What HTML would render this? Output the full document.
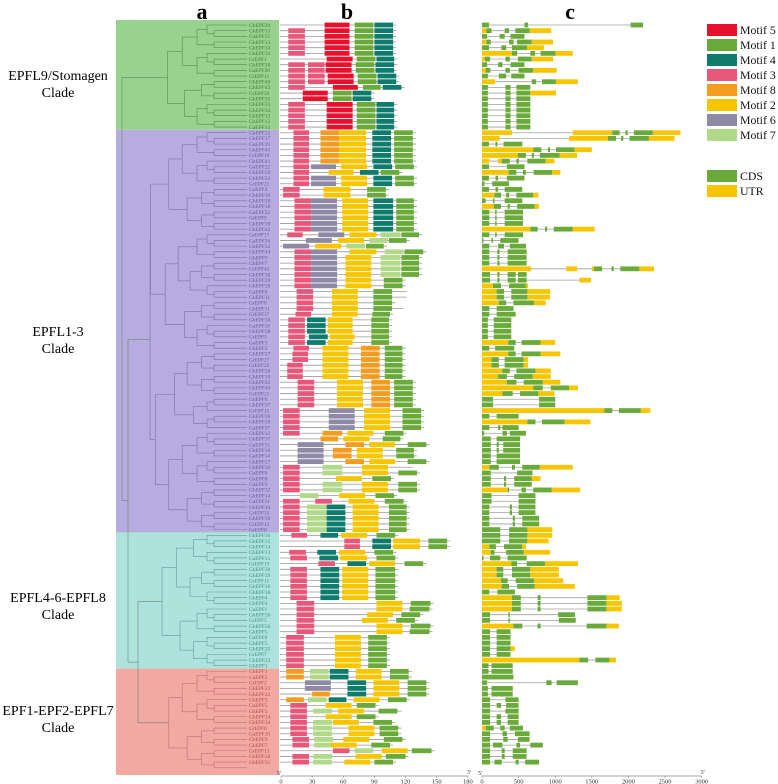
<!DOCTYPE html>
<html><head><meta charset="utf-8">
<style>
html,body{margin:0;padding:0;background:#fff;}
svg{display:block;font-family:"Liberation Serif",serif;}
</style></head>
<body>
<svg id="fig" width="778" height="784" viewBox="0 0 778 784" xmlns="http://www.w3.org/2000/svg">
  <g id="bgs"></g>
  <g id="tree"></g>
  <g id="names"></g>
  <g id="motifs"></g>
  <g id="genes"></g>
  <g id="axes"></g>
  <text x="202" y="19" font-size="22" font-weight="bold" text-anchor="middle">a</text>
  <text x="347" y="19" font-size="22" font-weight="bold" text-anchor="middle">b</text>
  <text x="570" y="19" font-size="22" font-weight="bold" text-anchor="middle">c</text>
  <g font-size="14" text-anchor="middle">
    <text x="58" y="80">EPFL9/Stomagen</text><text x="58" y="97">Clade</text></g>
  <g font-size="14" text-anchor="middle">
    <text x="58" y="336">EPFL1-3</text><text x="58" y="353">Clade</text></g>
  <g font-size="14" text-anchor="middle">
    <text x="58" y="602">EPFL4-6-EPFL8</text><text x="58" y="619">Clade</text></g>
  <g font-size="14" text-anchor="middle">
    <text x="58" y="715">EPF1-EPF2-EPFL7</text><text x="58" y="732">Clade</text></g>
  <g id="legend"></g>
</svg>
<script>
const NS="http://www.w3.org/2000/svg";
// ---- data ----
const cladeNames=["EPFL9/Stomagen","EPFL1-3","EPFL4-6-EPFL8","EPF1-EPF2-EPFL7"];
const cladeStart=[0,19,90,114];
const cladeEnd=[18,89,113,131];
const motifIds=["5","1","4","3","8","2","6","7"];
const motifColors=["#e8112d","#6aaa3a","#0f7b6c","#e8577a","#f39c1f","#f7c600","#8e8aa6","#b2d98a"];
const bTicks=[0,30,60,90,120,150,180];
const cTicks=[0,500,1000,1500,2000,2500,3000];
const rowNames=["GhEPF20","GhEPF13","GaEPF15","GhEPF13","GhEPF34","GhEPF33","GrEPF1","GhEPF18","GaEPF20","GrEPF11","GhEPF40","GhEPF43","GrEPF20","GhEPF35","GhEPF33","GhEPF34","GhEPF12","GhEPF12","GaEPF14",
"GhEPF21","GhEPF17","GaEPF19","GhEPF41","GrEPF10","GhEPF41","GaEPF22","GhEPF29","GhEPF22","GrEPF21","GaEPF4","GhEPF19","GhEPF28","GhEPF18","GaEPF22","GrEPF9","GhEPF39","GhEPF42","GrEPF17","GaEPF24","GhEPF32","GhEPF44","GhEPF9","GhEPF7","GrEPF43","GhEPF30","GhEPF29","GhEPF28","GaEPF8","GhEPF11","GrEPF8","GhEPF11","GrEPF17","GhEPF36","GaEPF18","GhEPF38","GrEPF3","GaEPF3","GhEPF2","GhEPF27","GrEPF27","GrEPF25","GhEPF20","GhEPF19","GhEPF42","GhEPF46","GrEPF21","GhEPF6","GhEPF37","GrEPF15","GhEPF36","GhEPF30","GaEPF37","GhEPF12","GhEPF37","GaEPF15","GhEPF16","GaEPF14","GhEPF27","GhEPF30","GaEPF6","GhEPF8","GaEPF9","GhEPF32","GhEPF14","GaEPF11","GhEPF16","GrEPF31","GhEPF39","GrEPF12","GrEPF8",
"GhEPF36","GhEPF35","GhEPF14","GhEPF13","GaEPF13","GrEPF19","GhEPF38","GhEPF39","GrEPF11","GhEPF16","GhEPF18","GhEPF4","GhEPF4","GaEPF1","GhEPF26","GrEPF5","GhEPF26","GhEPF5","GaEPF6","GhEPF5","GhEPF25","GrEPF7","GhEPF23",
"GhEPF1","GhEPF1","GaEPF2","GrEPF2","GhEPF23","GhEPF22","GhEPF3","GaEPF5","GhEPF3","GhEPF24","GhEPF24","GrEPF6","GaEPF10","GhEPF9","GhEPF7","GrEPF13","GhEPF28","GhEPF31"];
const motifRows=[
"5:42-66 1:71-89 4:90-108",
"3:7-23 5:42-66 1:71-89 4:90-108","3:7-23 5:42-66 1:71-89 4:90-108","3:7-23 5:42-66 1:71-89 4:90-108","3:7-23 5:42-66 1:71-89 4:90-108","3:7-23 5:42-66 1:71-89 4:90-108",
"5:44-69 1:73-91 4:92-109",
"3:7-23 3:26-42 5:43-68 1:72-90 4:91-109","3:7-23 3:26-42 5:43-68 1:72-90 4:91-109","3:7-23 3:26-42 5:45-70 1:74-92 4:93-111","3:7-23 3:26-42 5:45-70 1:74-92 4:93-111",
"3:7-23 5:50-74 1:79-96 4:98-116",
"5:21-45 1:50-68 4:69-87","5:21-45 1:50-68 4:69-87",
"3:7-23 5:44-69 1:73-91 4:92-109","3:7-23 5:44-69 1:73-91 4:92-109","3:7-23 5:44-69 1:73-91 4:92-109","3:7-23 5:44-69 1:73-91 4:92-109","3:7-23 5:44-69 1:73-91 4:92-109",
"3:12-27 8:38-56 2:56-82 4:88-106 1:109-127","3:12-27 8:38-56 2:56-82 4:88-106 1:109-127","3:12-27 8:38-56 2:56-82 4:88-106 1:109-127","3:12-27 8:38-56 2:56-82 4:88-106 1:109-127","3:12-27 8:38-56 2:56-82 4:88-106 1:109-127","3:12-27 8:38-56 2:56-82 4:88-106 1:109-127",
"3:12-27 6:29-53 2:58-83 4:89-107 1:110-128",
"3:12-27 2:46-70 4:76-94 1:96-114",
"3:12-27 6:29-53 2:58-83 4:89-107 1:110-128","3:12-27 6:29-53 2:58-83 4:89-107 1:110-128",
"3:2-18 2:41-67 1:83-101","3:2-18 2:41-67 1:83-101",
"3:13-29 6:29-54 2:59-84 4:89-108 1:111-128","3:13-29 6:29-54 2:59-84 4:89-108 1:111-128","3:13-29 6:29-54 2:59-84 4:89-108 1:111-128","3:13-29 6:29-54 2:59-84 4:89-108 1:111-128","3:13-29 6:29-54 2:59-84 4:89-108 1:111-128","3:13-29 6:29-54 2:59-84 4:89-108 1:111-128",
"3:6-21 6:36-61 2:66-92 7:96-115 1:116-133",
"6:24-49 2:55-80 7:85-103 1:104-121",
"6:2-27 2:33-58 7:63-81 1:82-99",
"3:13-29 6:29-54 2:66-92 7:100-118 1:119-137",
"3:13-29 6:29-54 2:62-87 7:96-115 1:116-133","3:13-29 6:29-54 2:62-87 7:96-115 1:116-133","3:13-29 6:29-54 2:62-87 7:96-115 1:116-133","3:13-29 6:29-54 2:62-87 7:96-115 1:116-133",
"3:13-29 6:29-54 2:62-87 1:99-117","3:13-29 6:29-54 2:62-87 1:99-117",
"3:15-31 2:49-74 1:89-107 L:121","3:15-31 2:49-74 1:89-107 L:121","3:15-31 2:49-74 1:89-107","3:15-31 2:49-74 1:89-107 L:118",
"3:14-29 2:49-74 1:88-105",
"3:7-23 4:25-43 2:45-69 1:87-104","3:7-23 4:25-43 2:45-69 1:87-104","3:7-23 4:25-43 2:45-69 1:87-104","3:7-23 4:27-45 2:47-71 1:87-104","3:7-23 4:25-43 2:45-69 1:87-104",
"3:12-27 2:40-65 8:77-95 1:100-117","3:11-26 2:40-65 8:77-95 1:100-117","3:11-26 2:40-65 8:77-95 1:100-117",
"3:6-21 2:40-65 8:77-95 1:100-117","3:6-21 2:40-65 8:77-95 1:100-117","3:6-21 2:40-65 8:77-95 1:100-117",
"3:16-32 2:54-79 8:87-105 1:109-127","3:16-32 2:54-79 8:87-105 1:109-127","3:16-32 2:54-79 8:87-105 1:109-127","3:16-32 2:54-79 8:87-105 1:109-127","3:16-32 2:54-79 8:87-105 1:109-127",
"3:2-18 6:46-71 2:80-105 1:117-135","3:2-18 6:46-71 2:80-105 1:117-135","3:2-18 6:46-71 2:80-105 1:117-135","3:2-18 6:46-71 2:80-105 1:117-135",
"3:2-18 8:40-59 2:64-89 1:100-118",
"8:38-55 2:60-85 1:98-115",
"6:16-41 8:62-80 2:85-110 1:122-140",
"6:16-41 8:50-68 2:73-98 1:111-128","6:16-41 8:50-68 2:73-98 1:111-128",
"6:16-41 8:62-80 2:85-110 1:122-140",
"3:2-18 7:40-59 2:78-103 L:127",
"3:2-18 7:40-59 2:78-103 1:113-131",
"3:2-18 2:53-78 1:88-106",
"3:2-18 7:40-59 2:78-103 1:113-131","3:2-18 7:40-59 2:78-103 1:113-131",
"7:18-36 2:56-81 1:91-109",
"3:2-18 3:33-49 2:65-90 1:100-118",
"3:2-18 7:25-44 4:44-62 2:69-94 1:104-121","3:2-18 7:25-44 4:44-62 2:69-94 1:104-121","3:2-18 7:25-44 4:44-62 2:69-94 1:104-121","3:2-18 7:25-44 4:44-62 2:69-94 1:104-121","3:2-18 7:25-44 4:44-62 2:69-94 1:104-121",
"3:10-25 4:38-55 2:58-83 1:92-110",
"3:61-76 4:88-106 2:108-134 1:142-160","3:61-76 4:88-106 2:108-134 1:142-160",
"3:8-24 4:35-53 2:56-81 1:90-108",
"3:9-25 4:37-55 2:57-83 1:92-110",
"3:36-52 4:64-82 2:85-110 1:119-137",
"3:9-25 4:38-56 2:59-84 1:91-110","3:9-25 4:38-56 2:59-84 1:91-110","3:9-25 4:38-56 2:59-84 1:91-110","3:9-25 4:38-56 2:59-84 1:91-110","3:9-25 4:38-56 2:59-84 1:91-110","3:9-25 4:38-56 2:59-84 1:91-110",
"3:15-32 2:92-117 1:125-144","3:15-32 2:92-117 1:124-143",
"3:15-32 2:83-108 1:116-134",
"3:15-32 2:78-103 1:111-129",
"3:15-32 2:92-117 1:125-144","3:15-32 2:92-117 1:124-143",
"3:5-22 2:52-77 1:84-102","3:5-22 2:52-77 1:84-102","3:5-22 2:52-77 1:84-102","3:5-22 2:52-77 1:84-102","3:5-22 2:52-77 1:84-102","3:5-22 2:52-77 1:84-102",
"8:5-22 7:28-46 4:47-65 2:72-97 1:105-123","8:5-22 7:28-46 4:47-65 2:72-97 1:105-123",
"6:23-48 4:64-82 2:89-114 1:122-140","6:23-48 4:64-82 2:89-114 1:122-140",
"8:30-47 4:64-82 2:89-114 1:122-140",
"8:5-22 7:26-44 4:46-63 2:70-95 1:103-121",
"3:9-25 2:43-68 1:73-91 L:94",
"3:9-25 7:31-49 2:55-80 1:94-112 L:116",
"3:9-25 2:43-68 1:73-91",
"3:9-25 7:31-49 2:50-75 1:89-107",
"3:9-25 7:31-49 2:65-90 1:95-113","3:9-25 7:31-49 2:65-90 1:95-113",
"3:11-27 7:32-50 2:60-85 1:99-117",
"3:11-27 7:32-50 2:48-73 1:87-105",
"3:50-66 7:71-89 2:97-122 1:126-145 L:148",
"3:11-27 7:31-49 2:72-97 1:101-120",
"3:11-27 7:31-49 2:61-86 1:90-108",
"3:46-62 7:66-84 2:97-122 1:126-145 L:148"
];
const geneRows=[
"C0-95 C580-630 C2030-2200",
"U0-60 C60-130 C310-370 C455-650 U650-945",
"C0-70 C240-310 C390-580",
"U0-60 C60-120 C370-430 C480-680 U680-970",
"C0-95 C265-330 C410-615 U615-845",
"U0-410 C410-480 C660-725 C800-1005 U1005-1240",
"U0-40 C40-110 C320-380 C490-680 U680-970",
"C0-70 C220-280 C390-580",
"U0-50 C50-115 C320-380 C500-700 U700-1020",
"C0-80 C230-330 C400-580",
"U0-180 C680-740 C820-1010 U1010-1310",
"C0-80 C320-390 C470-660",
"C0-80 C320-390 C470-660 U660-1010",
"C0-80 C320-390 C470-660","C0-80 C320-390 C470-660","C0-80 C320-390 C470-660","C0-80 C320-390 C470-660","C0-80 C320-390 C470-660","C0-80 C320-390 C470-660",
"U0-410 U1240-1780 C1780-1880 C1960-1990 C2075-2335 U2335-2710",
"U0-240 U1190-1720 C1720-1830 C1900-1930 C2015-2280 U2280-2630",
"C0-95 C185-210 C295-550",
"U0-700 C700-810 C900-930 C1010-1265 U1265-1500",
"U0-490 C490-600 C680-710 C790-1060 U1060-1300",
"U0-100 U220-270 C270-380 C470-505 C620-870 U870-990",
"C0-95 C340-580",
"U0-365 C365-470 C560-600 C705-960 U960-1070",
"C0-95 C185-220 C340-580",
"C0-35 C140-370",
"C0-95 C185-220 C310-550",
"U0-170 C170-260 C330-370 C470-700 U700-770",
"C0-50 C150-170 C310-550",
"U0-160 C160-260 C350-380 C480-720 U720-780",
"C0-100 C180-200 C310-560","C0-100 C180-200 C310-560","C0-100 C180-200 C310-560",
"U0-660 C660-760 C860-890 C980-1240 U1240-1540",
"C0-100 C180-200 C310-560",
"C0-20 C130-150 C250-500",
"C0-100 C220-300 C380-600",
"C0-100 C210-240 C350-610","C0-100 C210-240 C350-610","C0-100 C210-240 C350-610",
"U0-670 U1150-1300 U1500-1530 C1530-1640 C1770-1800 C1890-2150 U2150-2350",
"C0-110 C210-240 C350-460 C490-610",
"C0-110 C210-240 C350-460 C490-610 U1330-1490",
"U0-150 C150-260 C370-600 U600-630",
"U0-200 C200-300 C400-620 U620-930","U0-200 C200-300 C400-620 U620-930",
"U0-230 C230-330 C430-710 U710-870",
"C0-100 C200-430",
"C0-100 C200-460",
"C0-80 C160-400","C0-80 C160-400","C0-80 C160-400","C0-80 C160-400",
"U0-360 C360-460 C540-800 U800-1000",
"C0-100 C180-440",
"U0-360 C360-460 C540-800 U800-1070",
"U0-130 C130-230 C310-570 U570-630","U0-130 C130-230 C310-570 U570-630",
"U0-280 C280-380 C470-730 U730-940",
"U0-220 C220-340 C440-690 U690-940",
"U0-340 C340-470 C570-830 U830-1070",
"U0-700 C700-830 C940-1190 U1190-1310",
"U0-280 C280-420 C520-770 U770-990",
"C0-150 C780-1000","C0-150 C780-1000",
"U0-1670 C1670-1780 C1870-2170 U2170-2300",
"C0-100 C200-500",
"U0-620 C620-730 C820-1130 U1130-1480",
"C0-100 C220-250 C280-500",
"C0-30 C280-340 C380-600",
"C0-120 C200-520",
"C0-120 C200-230 C290-520","C0-120 C200-230 C290-520",
"C0-120 C200-520","C0-120 C200-520",
"U0-100 C100-230 C410-450 C550-790 U790-1240",
"C0-120 C480-690",
"C0-120 C300-330 C440-680 U680-800",
"C0-120 C300-330 C440-680",
"U0-350 C350-370 C540-600 C700-950 U950-1340",
"C0-130 C500-730","C0-130 C500-730",
"C0-100 C380-410 C500-730","C0-100 C380-410 C500-730",
"C0-100 C420-450 C550-780","C0-100 C420-450 C550-780",
"C0-250 C370-620 U620-960","C0-250 C370-620 U620-960",
"C0-250 C370-620 U620-910",
"U0-100 C100-190 C300-550 U550-600",
"U0-120 C120-170 C330-570 U570-930",
"C0-20 C110-250 C350-610",
"U0-400 C400-480 C610-860 U860-1310",
"U0-200 C200-290 C410-660 U660-1050","U0-200 C200-290 C410-660 U660-1050",
"U0-260 C260-350 C460-710 U710-1110",
"U0-270 C270-370 C480-720 U720-1270",
"C0-100 C210-450",
"U0-410 C410-530 C760-800 C1440-1700 U1700-1880",
"U0-410 C410-530 C760-800 C1440-1700 U1700-1910","U0-410 C410-530 C760-800 C1440-1700 U1700-1910",
"C0-110 C360-380 C1040-1270",
"C0-110 C360-380 C1050-1280",
"U0-430 C430-550 C760-800 C1430-1700 U1700-1870",
"C0-110 C200-390","C0-110 C200-390","C0-110 C200-390",
"C0-110 C200-390 U390-450",
"C0-110 C200-390",
"U0-1330 C1330-1450 C1550-1740 U1740-1830",
"C0-90 C130-420","C0-90 C130-420",
"C0-430",
"C0-70 C880-950 C1020-1310",
"C0-80 C130-420","C0-80 C130-420",
"C0-110 C320-500",
"C0-110 C200-260 C330-500",
"C0-110 C320-500",
"C0-110 C200-260 C350-500","C0-110 C200-260 C350-500",
"U0-50 C50-160 C250-310 C380-560",
"C0-110 C280-340 C450-650",
"C0-110 C290-350 C490-650",
"C0-110 C150-280 C470-520 C660-830",
"C0-110 C270-310 C420-610","C0-110 C270-310 C420-610",
"C0-110 C170-270 C460-500 C590-780"
];
// ---- scales ----
const rowY=r=>25+r*5.67;
const bX=v=>281+v*1.038;
const cX=v=>482+v*0.0732;
const cladeBg=["#99d18f","#b7acdf","#aee3dd","#f2a8a3"];
const cladeText=["#3f7d39","#6556a3","#3f8d89","#b24a48"];
const cladeLine=["#4f8f4a","#7a70a8","#5a9c98","#c07070"];
function mk(tag,attrs,parent){const e=document.createElementNS(NS,tag);for(const k in attrs)e.setAttribute(k,attrs[k]);parent.appendChild(e);return e;}
const bgs=document.getElementById('bgs'),tree=document.getElementById('tree'),names=document.getElementById('names'),motifs=document.getElementById('motifs'),genes=document.getElementById('genes'),axes=document.getElementById('axes'),legend=document.getElementById('legend');
function cladeOf(r){for(let i=0;i<4;i++)if(r>=cladeStart[i]&&r<=cladeEnd[i])return i;return 0;}
for(let i=0;i<4;i++){
  const top=i===0?20:rowY(cladeStart[i])-2.8, bot=i===3?775:rowY(cladeEnd[i])+2.8;
  const e=mk('rect',{x:116,y:top,width:163,height:bot-top,fill:cladeBg[i]},bgs);
  
  
}
const leafX=247;
function build(lo,hi,depth,c){
  if(lo===hi){return {y:rowY(lo),x:leafX};}
  const n=hi-lo+1;const split=lo+Math.max(1,Math.round(n*((depth%2)?0.45:0.55)))-1;
  const a=build(lo,Math.min(split,hi-1),depth+1,c),b=build(Math.min(split,hi-1)+1,hi,depth+1,c);
  const x=Math.max(150,leafX-Math.min(leafX-150,Math.log2(n+1)*17+6));
  const col=cladeLine[c];
  mk('line',{x1:x,y1:a.y,x2:a.x,y2:a.y,stroke:col,'stroke-width':0.6},tree);
  mk('line',{x1:x,y1:b.y,x2:b.x,y2:b.y,stroke:col,'stroke-width':0.6},tree);
  mk('line',{x1:x,y1:a.y,x2:x,y2:b.y,stroke:col,'stroke-width':0.6},tree);
  return {x:x,y:(a.y+b.y)/2};
}
const roots=[];
for(let i=0;i<4;i++)roots.push(build(cladeStart[i],cladeEnd[i],0,i));
const rc="#6a8a6a";
const j1=138,j2=128,j3=122;
mk('line',{x1:j1,y1:roots[2].y,x2:roots[2].x,y2:roots[2].y,stroke:rc,'stroke-width':0.6},tree);
mk('line',{x1:j1,y1:roots[3].y,x2:roots[3].x,y2:roots[3].y,stroke:rc,'stroke-width':0.6},tree);
mk('line',{x1:j1,y1:roots[2].y,x2:j1,y2:roots[3].y,stroke:rc,'stroke-width':0.6},tree);
const m23=(roots[2].y+roots[3].y)/2;
mk('line',{x1:j2,y1:roots[1].y,x2:roots[1].x,y2:roots[1].y,stroke:rc,'stroke-width':0.6},tree);
mk('line',{x1:j2,y1:m23,x2:j1,y2:m23,stroke:rc,'stroke-width':0.6},tree);
mk('line',{x1:j2,y1:roots[1].y,x2:j2,y2:m23,stroke:rc,'stroke-width':0.6},tree);
const m123=(roots[1].y+m23)/2;
mk('line',{x1:j3,y1:roots[0].y,x2:roots[0].x,y2:roots[0].y,stroke:rc,'stroke-width':0.6},tree);
mk('line',{x1:j3,y1:m123,x2:j2,y2:m123,stroke:rc,'stroke-width':0.6},tree);
mk('line',{x1:j3,y1:roots[0].y,x2:j3,y2:m123,stroke:rc,'stroke-width':0.6},tree);
rowNames.forEach((nm,r)=>{
  const c=cladeOf(r),y=rowY(r);
  const t=mk('text',{x:249,y:y+1.8,'font-size':5.4,fill:cladeText[c]},names);
  t.textContent=nm;
  
  
  const toks=(motifRows[r]||"").split(' ').filter(s=>s);
  let end=0,len=null;const boxes=[];
  toks.forEach(tk=>{const [k,v]=tk.split(':');if(k==='L'){len=+v;return;}const [s,e]=v.split('-').map(Number);boxes.push([k,s,e]);end=Math.max(end,e);});
  if(len===null)len=end+3;
  const g=mk('g',{},motifs);
  
  
  mk('line',{x1:bX(-1),y1:y,x2:bX(len),y2:y,stroke:'#9a9a9a','stroke-width':0.8},g);
  boxes.forEach(b=>{
    const e=mk('rect',{x:bX(b[1]),y:y-2.4,width:bX(b[2])-bX(b[1]),height:4.8,fill:motifColors[motifIds.indexOf(b[0])]},g);
    
    
  });
  const gt=(geneRows[r]||"").split(' ').filter(s=>s);
  let gmax=0;const gb=[];
  gt.forEach(tk=>{const k=tk[0];const [s,e]=tk.slice(1).split('-').map(Number);gb.push([k,s,e]);gmax=Math.max(gmax,e);});
  const gg=mk('g',{},genes);
  
  
  mk('line',{x1:cX(0),y1:y,x2:cX(gmax),y2:y,stroke:'#a0a0a0','stroke-width':0.8},gg);
  gb.forEach(b=>{
    const e=mk('rect',{x:cX(b[1]),y:y-2.4,width:Math.max(1,cX(b[2])-cX(b[1])),height:4.8,fill:b[0]==='C'?'#6aaa3a':'#f7c600'},gg);
    
    
  });
});
function axis(scale,ticks,x0,x1,name){
  const g=mk('g',{},axes);
  
  
  const ay=776;
  mk('line',{x1:x0,y1:ay,x2:x1,y2:ay,stroke:'#888','stroke-width':0.7},g);
  ticks.forEach(v=>{
    mk('line',{x1:scale(v),y1:ay,x2:scale(v),y2:ay+2,stroke:'#888','stroke-width':0.6},g);
    const t=mk('text',{x:scale(v),y:783.5,'font-size':6.5,'text-anchor':'middle',fill:'#333'},g);
    t.textContent=v;
  });
  const a=mk('text',{x:x0-4,y:775,'font-size':6,fill:'#333'},g);a.textContent="5'";
  const b=mk('text',{x:x1-1,y:774,'font-size':6,fill:'#333'},g);b.textContent="3'";
}
axis(bX,bTicks,bX(0),bX(180),'motif-x-axis');
axis(cX,cTicks,cX(0),cX(3000),'gene-x-axis');
motifIds.forEach((m,i)=>{
  const y=24+i*15;
  const r=mk('rect',{x:707,y:y,width:30,height:12,fill:motifColors[i]},legend);
  
  
  const t=mk('text',{x:740,y:y+10,'font-size':11.8,fill:'#111'},legend);
  t.textContent='Motif '+m;
  
  
});
[['CDS','#6aaa3a',170],['UTR','#f7c600',185]].forEach(d=>{
  const r=mk('rect',{x:707,y:d[2],width:30,height:12,fill:d[1]},legend);
  
  
  const t=mk('text',{x:740,y:d[2]+10,'font-size':11.8,fill:'#111'},legend);
  t.textContent=d[0];
  
  
});
</script>
</body></html>
